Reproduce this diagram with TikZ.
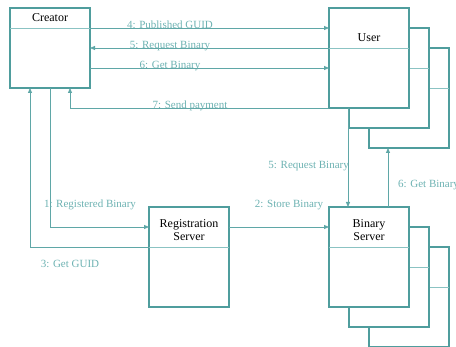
\documentclass[tikz,border=0pt]{standalone}
\usepackage{fontspec}
\setmainfont{Liberation Serif}
\usetikzlibrary{calc,arrows.meta}
\definecolor{boxc}{HTML}{4F9D9D}
\definecolor{linec}{HTML}{5FA7A7}
\definecolor{hdrc}{HTML}{8BC3C3}
\definecolor{labc}{HTML}{6DB2B2}
\tikzset{
  box/.style={draw=boxc, line width=1.2pt, fill=white, inner sep=0pt, outer sep=0pt, minimum width=80pt},
  hdr/.style={draw=hdrc, line width=0.9pt},
  arr/.style={draw=linec, line width=0.8pt, -{Triangle[length=5pt,width=4pt]}},
  ttl/.style={font=\fontsize{12}{13.5}\selectfont, text=black, align=center, inner sep=0pt},
  lab/.style={font=\fontsize{11}{12}\selectfont, text=labc, inner sep=0pt, anchor=base},
}
\begin{document}
\begin{tikzpicture}[x=1pt,y=-1pt]
\useasboundingbox (0,0) rectangle (456,347);

% Creator
\node[box, minimum height=80pt] (creator) at (50,48) {};
\draw[hdr] ($(creator.north west)+(0,20)$) -- ($(creator.north east)+(0,20)$);
\node[ttl] (creatorT) at (50,18) {Creator};

% User, stacked copies back to front
\node[box, minimum height=100pt] (user2) at (409,98) {};
\draw[hdr] ($(user2.north west)+(0,40)$) -- ($(user2.north east)+(0,40)$);
\node[box, minimum height=100pt] (user1) at (389,78) {};
\draw[hdr] ($(user1.north west)+(0,40)$) -- ($(user1.north east)+(0,40)$);
\node[box, minimum height=100pt] (user) at (369,58) {};
\draw[hdr] ($(user.north west)+(0,40)$) -- ($(user.north east)+(0,40)$);
\node[ttl] (userT) at (369,38) {User};

% Registration Server
\node[box, minimum height=100pt] (reg) at (189,257) {};
\draw[hdr] ($(reg.north west)+(0,40)$) -- ($(reg.north east)+(0,40)$);
\node[ttl] (regT) at (189,230) {Registration\\Server};

% Binary Server, stacked copies back to front
\node[box, minimum height=100pt] (bin2) at (409,297) {};
\draw[hdr] ($(bin2.north west)+(0,40)$) -- ($(bin2.north east)+(0,40)$);
\node[box, minimum height=100pt] (bin1) at (389,277) {};
\draw[hdr] ($(bin1.north west)+(0,40)$) -- ($(bin1.north east)+(0,40)$);
\node[box, minimum height=100pt] (bin) at (369,257) {};
\draw[hdr] ($(bin.north west)+(0,40)$) -- ($(bin.north east)+(0,40)$);
\node[ttl] (binT) at (369,230) {Binary\\Server};

% Creator <-> User messages
\draw[arr] ($(creator.north east)+(0,20)$) -- ($(user.north west)+(0,20)$);
\draw[arr] ($(user.north west)+(0,40)$) -- ($(creator.north east)+(0,40)$);
\draw[arr] ($(creator.north east)+(0,60)$) -- ($(user.north west)+(0,60)$);
\draw[arr] (user.south west) -| ($(creator.south)+(20,0)$);

% Creator -> Registration Server -> Binary Server
\draw[arr] (creator.south) |- ($(reg.north west)+(0,20)$);
\draw[arr] ($(reg.north west)+(0,40)$) -| ($(creator.south)+(-20,0)$);
\draw[arr] ($(reg.north east)+(0,20)$) -- ($(bin.north west)+(0,20)$);

% User <-> Binary Server
\draw[arr] ($(user.south west)+(19,0)$) -- ($(bin.north west)+(19,0)$);
\coordinate (gb) at ($(bin.north west)+(59,0)$);
\draw[arr] (gb) -- (gb |- user2.south);

% Message labels
\node[lab] (l4) at (170,28.5) {4: Published GUID};
\node[lab] (l5) at (170,48.5) {5: Request Binary};
\node[lab] (l6) at (170,68.5) {6: Get Binary};
\node[lab] (l7) at (190,108.5) {7: Send payment};
\node[lab] (l1) at (90,207.5) {1: Registered Binary};
\node[lab] (l3) at (70,267.5) {3: Get GUID};
\node[lab] (l2) at (289,207.5) {2: Store Binary};
\node[lab, anchor=base east] (l5b) at (349,168.5) {5: Request Binary};
\node[lab, anchor=base west] (l6b) at (398,187.5) {6: Get Binary};
\end{tikzpicture}
\end{document}
